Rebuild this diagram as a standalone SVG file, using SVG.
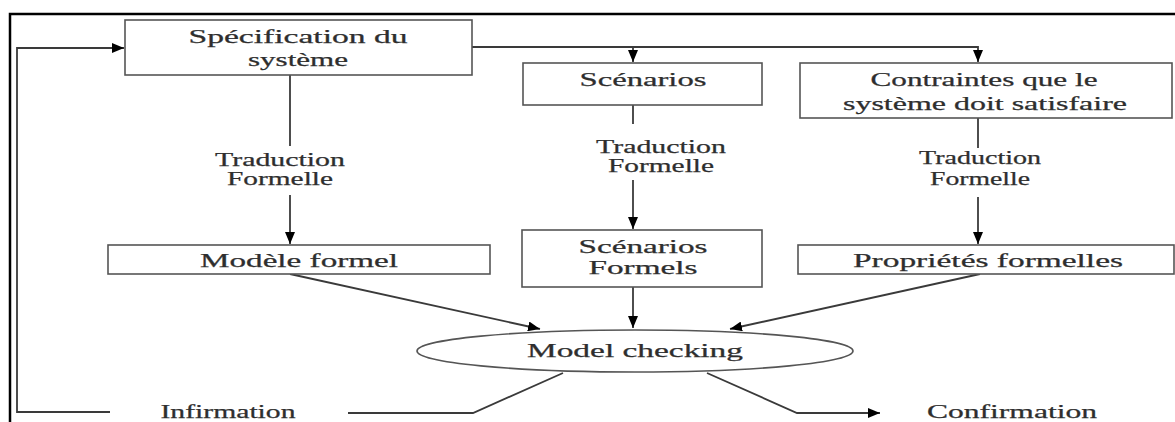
<svg xmlns="http://www.w3.org/2000/svg" width="1175" height="422" viewBox="0 0 1175 422">
  <style>
    .box { fill: #ffffff; stroke: #555555; stroke-width: 1.6; }
    .lbl { font-family: "Liberation Serif", "Times New Roman", serif; font-size: 19px; fill: #2e2e2e; stroke: #2e2e2e; stroke-width: 0.25; text-anchor: middle; }
    .edge { fill: none; stroke: #3a3a3a; stroke-width: 1.8; }
    .frame { fill: none; stroke: #000000; stroke-width: 2.5; }
  </style>
  <defs>
    <marker id="arrow" viewBox="0 0 12 10" refX="12" refY="5" markerWidth="12" markerHeight="10" markerUnits="userSpaceOnUse" orient="auto">
      <path d="M0,0 L12,5 L0,10 Z" fill="#000000"/>
    </marker>
  </defs>

  <rect width="1175" height="422" fill="#ffffff"/>

  <!-- outer frame (top and left edges) -->
  <path class="frame" d="M10,422 L10,14 L1175,14"/>

  <!-- connectors -->
  <g id="connectors">
    <!-- feedback loop back to the specification -->
    <path class="edge" d="M110,412 L17,412 L17,48 L124,48" marker-end="url(#arrow)"/>
    <path class="edge" d="M563,373 L473,413 L348,413"/>
    <!-- specification to scenarios and constraints -->
    <path class="edge" d="M472,47 L978,47 L978,62" marker-end="url(#arrow)"/>
    <path class="edge" d="M633,47 L633,62" marker-end="url(#arrow)"/>
    <!-- formal translation, left column -->
    <path class="edge" d="M290,75 L290,146"/>
    <path class="edge" d="M290,195 L290,244" marker-end="url(#arrow)"/>
    <!-- formal translation, middle column -->
    <path class="edge" d="M633,105 L633,124"/>
    <path class="edge" d="M633,180 L633,229" marker-end="url(#arrow)"/>
    <!-- formal translation, right column -->
    <path class="edge" d="M978,118 L978,148"/>
    <path class="edge" d="M978,197 L978,244" marker-end="url(#arrow)"/>
    <!-- inputs to model checking -->
    <path class="edge" d="M290,274 L540,329" marker-end="url(#arrow)"/>
    <path class="edge" d="M633,287 L633,328" marker-end="url(#arrow)"/>
    <path class="edge" d="M980,274 L730,329" marker-end="url(#arrow)"/>
    <!-- confirmation output -->
    <path class="edge" d="M707,373 L797,413 L880,413" marker-end="url(#arrow)"/>
  </g>

  <!-- edge labels -->
  <g id="labels">
    <text class="lbl" x="280" y="166" textLength="130" lengthAdjust="spacingAndGlyphs">Traduction</text>
    <text class="lbl" x="280" y="185" textLength="106" lengthAdjust="spacingAndGlyphs">Formelle</text>
    <text class="lbl" x="661" y="153" textLength="130" lengthAdjust="spacingAndGlyphs">Traduction</text>
    <text class="lbl" x="661" y="172" textLength="106" lengthAdjust="spacingAndGlyphs">Formelle</text>
    <text class="lbl" x="980" y="164" textLength="122" lengthAdjust="spacingAndGlyphs">Traduction</text>
    <text class="lbl" x="980" y="185" textLength="100" lengthAdjust="spacingAndGlyphs">Formelle</text>
    <text class="lbl" x="228" y="418" textLength="135" lengthAdjust="spacingAndGlyphs">Infirmation</text>
    <text class="lbl" x="1012" y="418" textLength="170" lengthAdjust="spacingAndGlyphs">Confirmation</text>
  </g>

  <g id="specification">
    <rect class="box" x="125" y="20" width="347" height="55"/>
    <text class="lbl" x="298" y="43" textLength="219" lengthAdjust="spacingAndGlyphs">Spécification du</text>
    <text class="lbl" x="298" y="66" textLength="100" lengthAdjust="spacingAndGlyphs">système</text>
  </g>

  <g id="scenarios">
    <rect class="box" x="523" y="63" width="239" height="42"/>
    <text class="lbl" x="643" y="86" textLength="127" lengthAdjust="spacingAndGlyphs">Scénarios</text>
  </g>

  <g id="contraintes">
    <rect class="box" x="800" y="63" width="372" height="55"/>
    <text class="lbl" x="984" y="86" textLength="227" lengthAdjust="spacingAndGlyphs">Contraintes que le</text>
    <text class="lbl" x="985" y="110" textLength="284" lengthAdjust="spacingAndGlyphs">système doit satisfaire</text>
  </g>

  <g id="modele-formel">
    <rect class="box" x="108" y="245" width="382" height="29"/>
    <text class="lbl" x="299" y="267" textLength="198" lengthAdjust="spacingAndGlyphs">Modèle formel</text>
  </g>

  <g id="scenarios-formels">
    <rect class="box" x="522" y="230" width="240" height="57"/>
    <text class="lbl" x="643" y="253" textLength="129" lengthAdjust="spacingAndGlyphs">Scénarios</text>
    <text class="lbl" x="643" y="274" textLength="109" lengthAdjust="spacingAndGlyphs">Formels</text>
  </g>

  <g id="proprietes-formelles">
    <rect class="box" x="798" y="245" width="376" height="29"/>
    <text class="lbl" x="988" y="267" textLength="270" lengthAdjust="spacingAndGlyphs">Propriétés formelles</text>
  </g>

  <g id="model-checking">
    <ellipse class="box" cx="635" cy="351" rx="218" ry="21"/>
    <text class="lbl" x="635" y="357" textLength="216" lengthAdjust="spacingAndGlyphs">Model checking</text>
  </g>
</svg>
